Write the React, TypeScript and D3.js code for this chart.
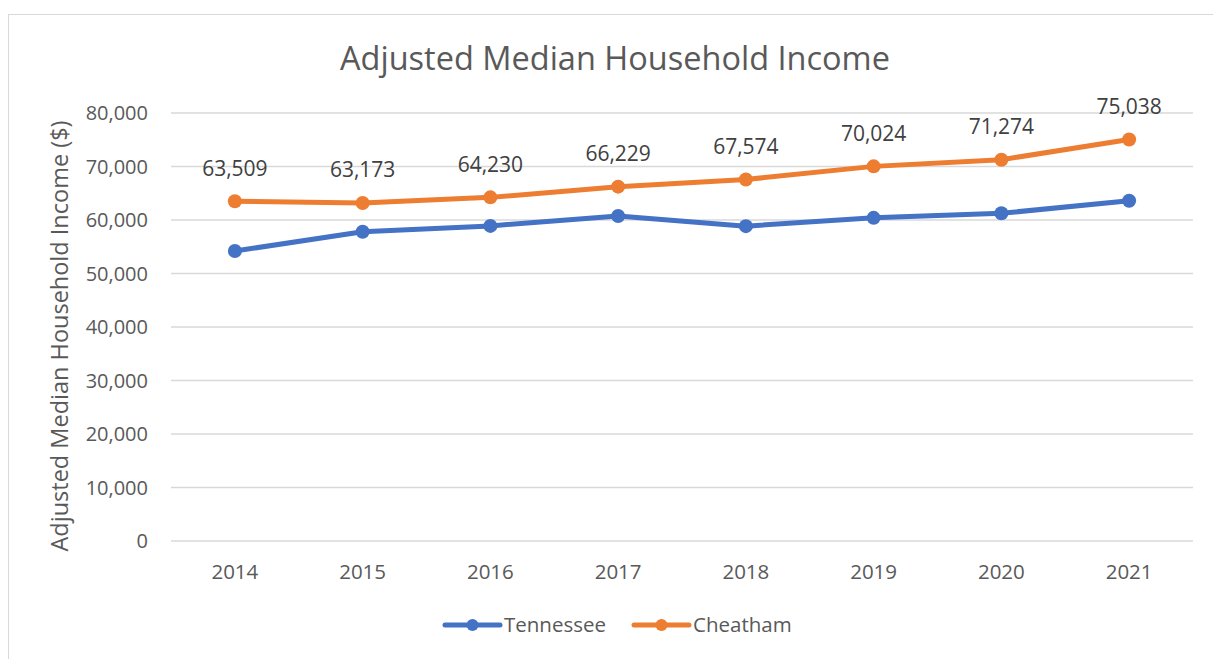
import React from "react";
import * as d3 from "d3";

const years = ["2014", "2015", "2016", "2017", "2018", "2019", "2020", "2021"];
const tennessee = [54200, 57800, 58900, 60750, 58850, 60400, 61250, 63600];
const cheatham = [63509, 63173, 64230, 66229, 67574, 70024, 71274, 75038];
const yTicks = [0, 10000, 20000, 30000, 40000, 50000, 60000, 70000, 80000];

const seriesList = [
  { name: "Tennessee", values: tennessee, color: "#4472C4", labels: false },
  { name: "Cheatham", values: cheatham, color: "#ED7D31", labels: true },
];

const W = 1213;
const H = 659;
const font = "'Open Sans', 'Liberation Sans', sans-serif";
const textColor = "#595959";

const App: React.FC = () => {
  const plot = { left: 171, right: 1193, top: 113, bottom: 541 };

  const x = d3.scaleBand<string>().domain(years).range([plot.left, plot.right]);
  const y = d3.scaleLinear().domain([0, 80000]).range([plot.bottom, plot.top]);
  const fmt = d3.format(",");

  const line = d3
    .line<number>()
    .x((_, i) => (x(years[i]) ?? 0) + x.bandwidth() / 2)
    .y((d) => y(d));

  return (
    <svg
      width={W}
      height={H}
      style={{ position: "absolute", left: 0, top: 0, background: "#fff" }}
      fontFamily={font}
    >
      <rect x={8.5} y={14.5} width={1220} height={700} fill="#fff" stroke="#d9d9d9" />

      <text x={615} y={70} textAnchor="middle" fontSize={32.5} fill={textColor}>
        Adjusted Median Household Income
      </text>

      <text
        transform={`translate(68, 336) rotate(-90)`}
        textAnchor="middle"
        fontSize={23.5}
        fill={textColor}
      >
        Adjusted Median Household Income ($)
      </text>

      {yTicks.map((t) => (
        <g key={t}>
          <line
            x1={plot.left}
            x2={plot.right}
            y1={y(t)}
            y2={y(t)}
            stroke="#d9d9d9"
            strokeWidth={1.5}
          />
          <text
            x={148}
            y={y(t)}
            dy="0.35em"
            textAnchor="end"
            fontSize={20}
            fill={textColor}
          >
            {fmt(t)}
          </text>
        </g>
      ))}

      {years.map((yr) => (
        <text
          key={yr}
          x={(x(yr) ?? 0) + x.bandwidth() / 2}
          y={572}
          dy="0.35em"
          textAnchor="middle"
          fontSize={20.5}
          fill={textColor}
        >
          {yr}
        </text>
      ))}

      {seriesList.map((s) => (
        <g key={s.name}>
          <path
            d={line(s.values) ?? ""}
            fill="none"
            stroke={s.color}
            strokeWidth={5}
            strokeLinejoin="round"
            strokeLinecap="round"
          />
          {s.values.map((v, i) => (
            <circle
              key={i}
              cx={(x(years[i]) ?? 0) + x.bandwidth() / 2}
              cy={y(v)}
              r={7}
              fill={s.color}
            />
          ))}
          {s.labels &&
            s.values.map((v, i) => (
              <text
                key={"l" + i}
                x={(x(years[i]) ?? 0) + x.bandwidth() / 2}
                y={y(v) - 33}
                dy="0.35em"
                textAnchor="middle"
                fontSize={21}
                fill="#404040"
              >
                {fmt(v)}
              </text>
            ))}
        </g>
      ))}

      {seriesList.map((s, i) => {
        const lx = i === 0 ? 445 : 634;
        return (
          <g key={"leg" + s.name}>
            <line
              x1={lx}
              x2={lx + 55}
              y1={625}
              y2={625}
              stroke={s.color}
              strokeWidth={5}
              strokeLinecap="round"
            />
            <circle cx={lx + 27.5} cy={625} r={6} fill={s.color} />
            <text x={lx + 59} y={625} dy="0.35em" fontSize={20.5} fill={textColor}>
              {s.name}
            </text>
          </g>
        );
      })}
    </svg>
  );
};

export default App;
